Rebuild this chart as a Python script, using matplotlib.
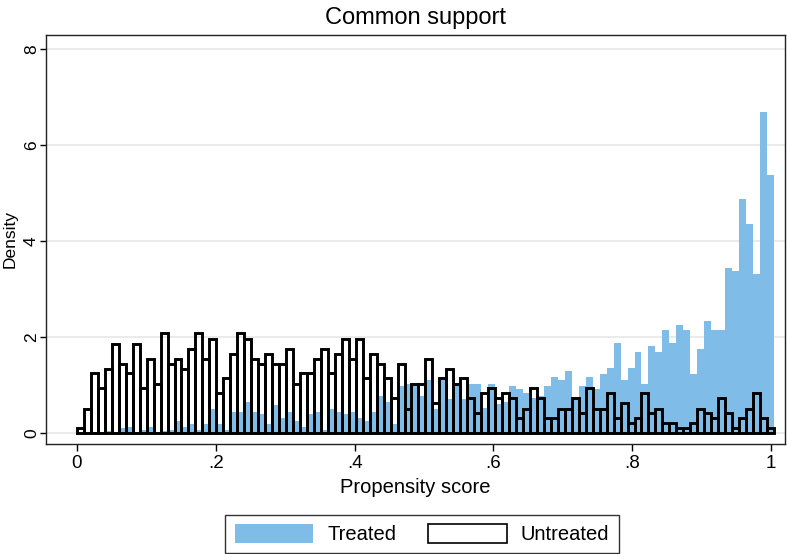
import numpy as np
import matplotlib
matplotlib.use('Agg')
import matplotlib.pyplot as plt
from matplotlib.patches import Patch

plt.rcParams['font.family'] = ['Liberation Sans', 'DejaVu Sans']

# histogram bins (100 bins over the propensity score)
bin_start = 0.0
bin_width = 0.01004

# density per bin
treated = [0.0, 0.0, 0.02, 0.02, 0.04, 0.03, 0.10, 0.12, 0.03, 0.06,
           0.12, 0.03, 0.05, 0.06, 0.25, 0.12, 0.19, 0.06, 0.19, 0.51,
           0.19, 0.06, 0.44, 0.44, 0.65, 0.44, 0.40, 0.19, 0.58, 0.32,
           0.44, 0.25, 0.13, 0.39, 0.44, 0.06, 0.51, 0.44, 0.39, 0.44,
           0.32, 0.25, 0.44, 0.77, 0.65, 0.19, 0.98, 1.03, 1.03, 0.78,
           1.10, 0.50, 1.14, 0.71, 1.00, 0.71, 1.03, 1.03, 0.53, 1.03,
           0.60, 0.65, 0.98, 0.91, 0.83, 0.72, 0.78, 0.97, 1.17, 1.10,
           1.29, 0.75, 0.98, 1.17, 0.91, 1.23, 1.36, 1.875, 1.10, 1.36,
           1.68, 1.03, 1.82, 1.68, 2.15, 1.88, 2.26, 2.15, 1.23, 1.76,
           2.33, 2.15, 2.15, 3.44, 3.375, 4.875, 4.35, 3.31, 6.69, 5.38]

untreated = [0.10, 0.51, 1.24, 0.93, 1.34, 1.86, 1.44, 1.24, 1.86, 0.93,
             1.55, 1.03, 2.08, 1.44, 1.55, 1.34, 1.76, 2.08, 1.55, 1.96,
             0.83, 1.14, 1.65, 2.08, 1.96, 1.55, 1.44, 1.65, 1.44, 1.44,
             1.76, 1.03, 1.24, 1.24, 1.55, 1.76, 1.24, 1.65, 1.96, 1.55,
             1.96, 1.14, 1.65, 1.44, 1.14, 0.72, 1.44, 0.51, 1.03, 1.03,
             1.55, 0.62, 1.14, 1.34, 1.03, 1.14, 0.72, 0.41, 0.83, 0.93,
             0.72, 0.83, 0.72, 0.31, 0.51, 0.93, 0.72, 0.31, 0.31, 0.51,
             0.51, 0.72, 0.41, 0.93, 0.51, 0.51, 0.83, 0.31, 0.62, 0.21,
             0.31, 0.83, 0.41, 0.51, 0.21, 0.21, 0.10, 0.10, 0.21, 0.51,
             0.41, 0.31, 0.72, 0.41, 0.10, 0.31, 0.51, 0.83, 0.31, 0.10]

xticks = [0, 0.2, 0.4, 0.6, 0.8, 1.0]
xtick_labels = ['0', '.2', '.4', '.6', '.8', '1']
yticks = [0, 2, 4, 6, 8]

blue = '#7fbde8'
edges = bin_start + bin_width * np.arange(len(treated))

fig = plt.figure(figsize=(7.87, 5.54), dpi=100)
ax = fig.add_axes([46 / 787, 1 - 444 / 554, 739 / 787, 409 / 554])

ax.bar(edges, treated, width=bin_width, align='edge', color=blue, linewidth=0, zorder=2)
ax.bar(edges, untreated, width=bin_width, align='edge', fill=False,
       edgecolor='black', linewidth=2.1, zorder=3)

ax.set_xlim(-0.0446, 1.020)
ax.set_ylim(-0.229, 8.29)

ax.set_yticks(yticks)
ax.set_yticklabels([str(t) for t in yticks], rotation=90, va='center', fontsize=12.5)
ax.set_xticks(xticks)
ax.set_xticklabels(xtick_labels, fontsize=13.5)
ax.tick_params(axis='both', direction='out', length=5, width=1, color='black', pad=3)
ax.tick_params(axis='y', length=4.5, pad=0.5)

ax.yaxis.grid(True, color='#eaeaea', linewidth=1.4, zorder=0)
ax.set_axisbelow(True)
for s in ax.spines.values():
    s.set_linewidth(1)
    s.set_color('#222222')

ax.set_xlabel('Propensity score', fontsize=14.5, labelpad=4)
ax.set_ylabel('Density', fontsize=12.5, va='center')
ax.yaxis.set_label_coords(-0.0483, 0.5)
ax.set_title('Common support', fontsize=17, pad=8)

handles = [Patch(facecolor=blue, edgecolor='none', label='Treated'),
           Patch(facecolor='white', edgecolor='black', linewidth=1.2, label='Untreated')]
leg = fig.legend(handles=handles, loc='center', ncol=2, fontsize=14.5,
                 bbox_to_anchor=(422 / 787, 1 - 534 / 554),
                 frameon=True, fancybox=False, edgecolor='black',
                 handlelength=3.9, handleheight=1.1, columnspacing=1.6,
                 handletextpad=0.7, borderpad=0.45)
leg.get_frame().set_linewidth(1)

fig.savefig('out.png', dpi=100)
